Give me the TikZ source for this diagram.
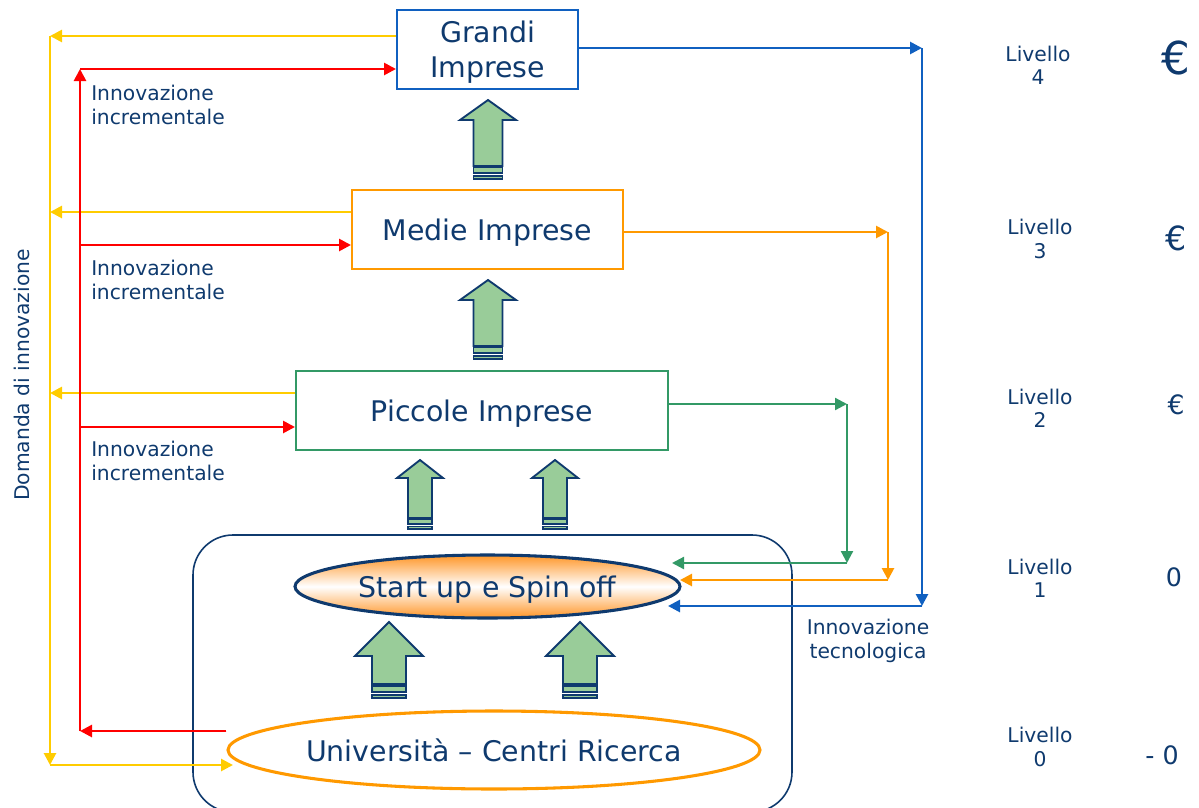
\documentclass[tikz,border=0pt]{standalone}
\usepackage{fontspec}
\setmainfont{DejaVu Sans}
\usetikzlibrary{arrows.meta,shapes.geometric}
\definecolor{navy}{RGB}{15,58,110}
\definecolor{ablue}{RGB}{16,96,192}
\definecolor{aorange}{RGB}{255,153,0}
\definecolor{agreen}{RGB}{51,153,102}
\definecolor{ayellow}{RGB}{255,204,0}
\definecolor{ared}{RGB}{255,0,0}
\definecolor{agfill}{RGB}{153,204,153}
\definecolor{suorange}{RGB}{255,150,40}
\newcommand\blockarr[7]{%
  \draw[barrow] (#1,#2) -- ({#1+#5},#3) -- ({#1+#6},#3) -- ({#1+#6},#4) -- ({#1-#6},#4) -- ({#1-#6},#3) -- ({#1-#5},#3) -- cycle;
  \draw[barrow] ({#1-#6},{#4+1.5*#7}) rectangle ({#1+#6},{#4+7*#7});
  \draw[barrow] ({#1-#6},{#4+10*#7}) rectangle ({#1+#6},{#4+13*#7});
}
\begin{document}
\begin{tikzpicture}[x=0.75pt,y=-0.75pt,
  bigtext/.style={text=navy,font=\fontsize{21.3}{26}\selectfont,align=center},
  smalltext/.style={text=navy,font=\fontsize{15.2}{17.5}\selectfont,inner sep=0pt},
  box/.style={draw,line width=1.5pt,inner sep=0pt,bigtext,text depth=0pt},
  barrow/.style={fill=agfill,draw=navy,line width=1.4pt,line join=miter},
  conn/.style={line width=2pt,-{Triangle[length=9pt,width=9pt]}},
  yel/.style={conn,draw=ayellow,fill=ayellow},
  redc/.style={conn,draw=ared,fill=ared},
  bl/.style={conn,draw=ablue,fill=ablue},
  org/.style={conn,draw=aorange,fill=aorange},
  grn/.style={conn,line width=1.7pt,draw=agreen,fill=agreen},
]
\useasboundingbox (0,0) rectangle (1199,807);

% container
\draw[navy,line width=1.2pt,rounded corners=30pt] (193,535) rectangle (792,812);

% nodes
\node[box,draw=ablue,minimum width={181*0.75pt},minimum height={79*0.75pt}] (grandi) at (487.5,49.5) {Grandi\\Imprese};
\node[box,draw=aorange,minimum width={271*0.75pt},minimum height={79*0.75pt}] (medie) at (487.5,229.5) {Medie Imprese};
\node[box,draw=agreen,minimum width={372*0.75pt},minimum height={79*0.75pt}] (piccole) at (482,410.5) {Piccole Imprese};
\node[ellipse,bigtext,inner sep=0pt,text depth=0pt,draw=navy,line width=2.3pt,minimum width={385*0.75pt},minimum height={63*0.75pt},
  top color=suorange,bottom color=suorange,middle color=white] (su) at (487.5,586.5) {Start up e Spin off};
\node[ellipse,bigtext,inner sep=0pt,draw=aorange,line width=2.3pt,fill=white,minimum width={532*0.75pt},minimum height={78*0.75pt}] (univ) at (494,750) {Università – Centri Ricerca};

% block arrows
\blockarr{488}{100}{120}{166}{28}{14.5}{1}
\blockarr{488}{280}{300}{346}{28}{14.5}{1}
\blockarr{420}{460}{478}{518}{23}{12}{0.85}
\blockarr{555}{460}{478}{518}{23}{12}{0.85}
\blockarr{389}{622}{656}{684}{34}{17}{1.1}
\blockarr{580}{622}{656}{684}{34}{17}{1.1}

% coordinates
\coordinate (yA) at (50,36);
\coordinate (yM) at (50,212);
\coordinate (yP) at (50,393);
\coordinate (yB) at (50,765);
\coordinate (yE) at (233,765);
\coordinate (rA) at (80,69);
\coordinate (rM) at (80,245);
\coordinate (rP) at (80,427);
\coordinate (rB) at (80,731);
\coordinate (bA) at (922,48);
\coordinate (bB) at (922,606);
\coordinate (bE) at (668,606);
\coordinate (oA) at (888,232);
\coordinate (oB) at (888,580);
\coordinate (oE) at (680,580);
\coordinate (gA) at (847,404);
\coordinate (gB) at (847,563);
\coordinate (gE) at (672,563);

% yellow: domanda di innovazione
\draw[yel] (grandi.west |- yA) -- (yA);
\draw[yel] (medie.west |- yM) -- (yM);
\draw[yel] (piccole.west |- yP) -- (yP);
\draw[yel] (yA) -- (yB);
\draw[yel] (yB) -- (yE);

% red: innovazione incrementale
\draw[redc] (univ.west |- rB) -- (rB);
\draw[redc] (rB) -- (rA);
\draw[redc] (rA) -- (grandi.west |- rA);
\draw[redc] (rM) -- (medie.west |- rM);
\draw[redc] (rP) -- (piccole.west |- rP);

% right side: innovazione tecnologica
\draw[bl] (grandi.east |- bA) -- (bA);
\draw[bl] (bA) -- (bB);
\draw[bl] (bB) -- (bE);
\draw[org] (medie.east |- oA) -- (oA);
\draw[org] (oA) -- (oB);
\draw[org] (oB) -- (oE);
\draw[grn] (piccole.east |- gA) -- (gA);
\draw[grn] (gA) -- (gB);
\draw[grn] (gB) -- (gE);

% labels
\node[smalltext,anchor=west,align=left] (l1) at (91,105) {Innovazione\\incrementale};
\node[smalltext,anchor=west,align=left] (l2) at (91,280) {Innovazione\\incrementale};
\node[smalltext,anchor=west,align=left] (l3) at (91,461) {Innovazione\\incrementale};
\node[smalltext,rotate=90] (dom) at (22,375) {Domanda di innovazione};
\node[smalltext,align=center] (tec) at (868,641) {Innovazione\\tecnologica};

\node[smalltext,align=center] (lv4) at (1038,65) {Livello\\4};
\node[smalltext,align=center] (lv3) at (1040,239) {Livello\\3};
\node[smalltext,align=center] (lv2) at (1040,408) {Livello\\2};
\node[smalltext,align=center] (lv1) at (1040,578) {Livello\\1};
\node[smalltext,align=center] (lv0) at (1040,747) {Livello\\0};

\node[text=navy,font=\fontsize{34}{34}\selectfont,inner sep=0pt] (e4) at (1176,58) {€};
\node[text=navy,font=\fontsize{25}{25}\selectfont,inner sep=0pt] (e3) at (1176,238) {€};
\node[text=navy,font=\fontsize{20}{20}\selectfont,inner sep=0pt] (e2) at (1176,405) {€};
\node[text=navy,font=\fontsize{19}{19}\selectfont,inner sep=0pt] (e1) at (1174,577) {0};
\node[text=navy,font=\fontsize{19}{19}\selectfont,inner sep=0pt] (e0) at (1162,755) {- 0};
\end{tikzpicture}
\end{document}
